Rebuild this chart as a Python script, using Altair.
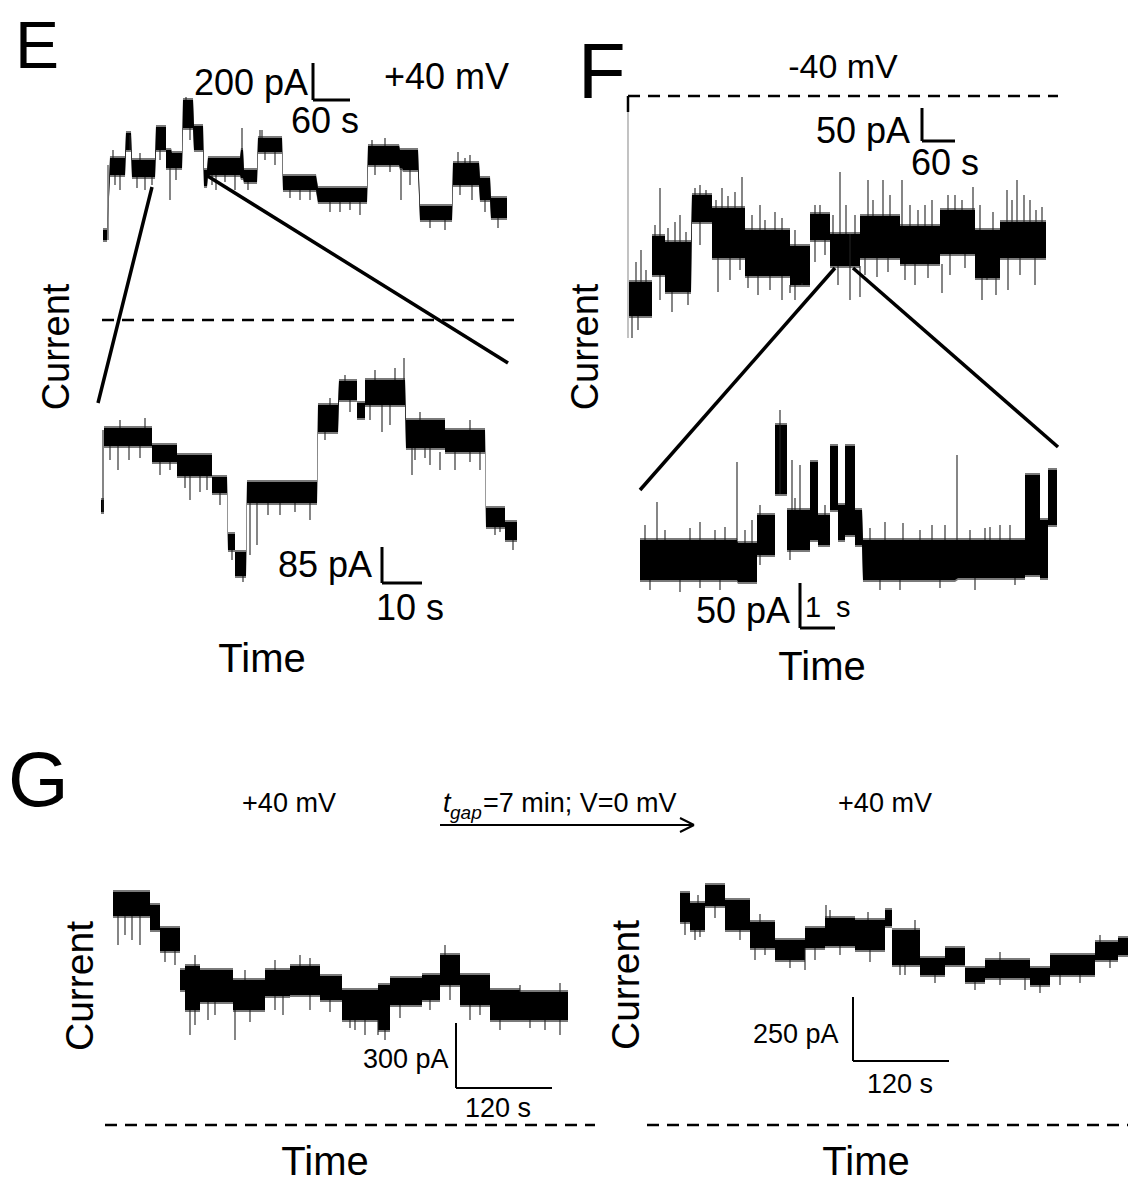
import altair as alt
import pandas as pd

# ------------------------------------------------------------------
# Digitised current traces (read off the figure).
# Each level: (time start, time end, upper edge, lower edge) in the
# figure's own digitising frame (px of the original panel layout).
# ------------------------------------------------------------------
E_TOP = [
    (103, 107, 230, 240), (110, 125, 158, 175), (126, 131, 133, 150),
    (132, 155, 160, 177), (156, 166, 127, 150), (166, 171, 150, 168),
    (172, 182, 153, 168), (183, 193, 100, 128), (194, 203, 126, 150),
    (204, 207, 170, 186), (208, 240, 158, 175), (241, 243, 150, 178),
    (244, 257, 170, 182), (258, 282, 138, 152), (283, 316, 176, 190),
    (318, 367, 188, 202), (368, 399, 146, 165), (400, 402, 150, 168),
    (403, 418, 150, 170), (420, 452, 206, 220), (453, 479, 163, 185),
    (480, 490, 178, 200), (491, 507, 198, 218),
]
# spikes: (time, from, to)
E_TOP_SPIKES = [
    (108, 165, 240), (170, 168, 200), (242, 150, 128), (401, 168, 200),
    (130, 150, 135), (186, 100, 97), (216, 175, 190), (300, 190, 200),
    (330, 202, 212), (350, 202, 210), (260, 138, 130), (430, 220, 228),
    (465, 163, 158), (498, 218, 228), (115, 175, 185), (120, 175, 190),
    (137, 177, 188), (145, 177, 190), (152, 177, 185), (160, 150, 160),
    (176, 168, 180), (190, 128, 140), (212, 175, 185), (225, 175, 182),
    (235, 175, 190), (248, 182, 190), (265, 152, 160), (275, 152, 165),
    (290, 190, 198), (310, 190, 200), (340, 202, 212), (360, 202, 215),
    (375, 165, 175), (390, 165, 172), (410, 170, 185), (445, 220, 230),
    (460, 185, 195), (472, 185, 200), (485, 200, 212), (113, 158, 150),
    (140, 160, 153), (262, 138, 130), (372, 146, 140), (385, 146, 138),
    (458, 163, 152), (470, 163, 155),
]

E_BOT = [
    (101, 104, 500, 512), (104, 152, 428, 446), (152, 177, 445, 462),
    (177, 212, 455, 476), (212, 227, 477, 493), (228, 235, 534, 550),
    (235, 246, 552, 576), (247, 317, 482, 503), (318, 338, 405, 432),
    (339, 357, 381, 400), (357, 365, 403, 418), (365, 405, 380, 405),
    (406, 445, 420, 448), (445, 485, 430, 452), (486, 505, 508, 527),
    (505, 517, 522, 540),
]
E_BOT_SPIKES = [
    (103, 430, 512), (118, 446, 470), (129, 446, 460), (190, 476, 500),
    (200, 476, 492), (250, 503, 555), (257, 503, 545), (268, 503, 515),
    (404, 380, 358), (412, 448, 475), (430, 448, 465), (440, 452, 470),
    (500, 527, 532), (513, 540, 550), (345, 381, 375), (382, 405, 432),
    (110, 446, 460), (140, 446, 458), (160, 462, 475), (170, 462, 470),
    (185, 476, 488), (207, 476, 490), (220, 493, 505), (232, 550, 560),
    (243, 576, 582), (280, 503, 515), (295, 503, 512), (310, 503, 520),
    (325, 432, 440), (350, 400, 412), (370, 405, 420), (390, 405, 425),
    (415, 448, 460), (425, 448, 458), (455, 452, 470), (470, 452, 462),
    (480, 452, 470), (495, 527, 535), (120, 428, 420), (145, 428, 418),
    (330, 405, 398), (375, 380, 370), (395, 380, 368), (420, 420, 412),
    (470, 430, 420),
]

F_TOP = [
    (629, 652, 282, 316), (652, 665, 236, 275), (665, 691, 242, 292),
    (692, 712, 195, 222), (712, 745, 208, 258), (745, 790, 230, 276),
    (790, 810, 246, 285), (810, 830, 214, 240), (830, 860, 234, 266),
    (860, 900, 216, 258), (900, 940, 226, 264), (940, 975, 210, 254),
    (975, 1000, 230, 278), (1000, 1046, 222, 258),
]
F_TOP_SPIKES = [
    (660, 236, 188), (722, 208, 188), (742, 208, 177), (840, 234, 172),
    (868, 216, 180), (883, 216, 180), (902, 226, 180), (973, 210, 187),
    (1007, 222, 190), (1017, 222, 180), (1042, 222, 207), (718, 258, 292),
    (748, 276, 288), (790, 285, 293), (802, 285, 283), (860, 266, 297),
    (877, 258, 277), (905, 264, 280), (942, 264, 293), (987, 278, 280),
    (1008, 258, 290), (680, 242, 215), (700, 195, 185), (760, 230, 205),
    (775, 230, 212), (820, 214, 205), (850, 234, 300), (925, 226, 205),
    (955, 210, 195), (1030, 222, 200), (632, 316, 338),
    (636, 282, 262), (641, 282, 250), (646, 282, 270), (655, 236, 225),
    (668, 242, 228), (675, 242, 222), (686, 242, 232), (695, 195, 188),
    (706, 195, 190), (716, 208, 200), (728, 208, 196), (735, 208, 192),
    (752, 230, 215), (765, 230, 220), (782, 230, 218), (795, 246, 230),
    (815, 214, 205), (833, 234, 215), (846, 234, 205), (855, 234, 215),
    (873, 216, 200), (890, 216, 195), (910, 226, 205), (918, 226, 210),
    (932, 226, 200), (948, 210, 195), (962, 210, 200), (980, 230, 205),
    (993, 230, 212), (1012, 222, 200), (1024, 222, 195), (1036, 222, 210),
    (638, 316, 330), (660, 275, 300), (672, 292, 312), (688, 292, 305),
    (700, 222, 245), (730, 258, 280), (740, 258, 270), (758, 276, 295),
    (770, 276, 290), (782, 276, 300), (795, 285, 300), (815, 240, 262),
    (825, 240, 255), (838, 266, 285), (865, 258, 275), (888, 258, 272),
    (915, 264, 285), (928, 264, 278), (950, 254, 275), (965, 254, 268),
    (982, 278, 300), (996, 278, 295), (1020, 258, 275), (1035, 258, 285),
]

F_BOT = [
    (640, 737, 540, 580), (738, 757, 543, 582), (757, 775, 515, 555),
    (775, 787, 425, 494), (787, 810, 510, 550), (810, 818, 462, 540),
    (818, 830, 515, 545), (830, 838, 446, 510), (838, 845, 505, 540),
    (845, 855, 446, 535), (855, 862, 510, 545), (863, 955, 540, 580),
    (958, 1025, 540, 578), (1025, 1040, 475, 575), (1040, 1048, 520, 578),
    (1048, 1057, 470, 525),
]
F_BOT_SPIKES = [
    (737, 540, 462), (957, 540, 455), (657, 540, 502), (700, 540, 522),
    (645, 540, 525), (752, 543, 520), (792, 510, 460), (800, 510, 465),
    (903, 540, 523), (932, 540, 525), (985, 540, 528), (1000, 540, 525),
    (680, 580, 592), (720, 580, 590), (780, 494, 410), (900, 580, 590),
    (665, 540, 530), (690, 540, 528), (715, 540, 530), (725, 540, 527),
    (745, 543, 530), (760, 515, 505), (795, 510, 498), (825, 515, 505),
    (870, 540, 528), (885, 540, 522), (920, 540, 530), (945, 540, 525),
    (970, 540, 530), (990, 540, 527), (1010, 540, 525), (650, 580, 590),
    (700, 580, 588), (760, 555, 565), (790, 550, 560), (880, 580, 590),
    (940, 580, 588), (975, 578, 590), (1015, 578, 585),
]

G_LEFT = [
    (113, 150, 892, 916), (150, 160, 905, 930), (160, 180, 928, 951),
    (180, 185, 970, 990), (185, 200, 966, 1010), (200, 233, 970, 1002),
    (233, 265, 980, 1010), (265, 290, 970, 996), (290, 320, 966, 995),
    (320, 342, 976, 1000), (342, 378, 990, 1020), (378, 390, 985, 1030),
    (390, 422, 978, 1005), (422, 440, 975, 1000), (440, 460, 955, 985),
    (460, 490, 975, 1005), (490, 520, 990, 1020), (520, 568, 992, 1020),
]
G_LEFT_SPIKES = [
    (118, 916, 945), (132, 916, 940), (190, 1010, 1035), (235, 1010, 1040),
    (378, 1020, 1035), (300, 966, 955), (283, 996, 1015), (355, 1020, 1030),
    (470, 1005, 1020), (545, 1020, 1030), (208, 1002, 1020),
    (125, 916, 935), (140, 916, 945), (165, 951, 962), (175, 951, 965),
    (195, 1010, 1025), (215, 1002, 1015), (250, 1010, 1022), (275, 996, 1010),
    (310, 995, 1010), (330, 1000, 1012), (350, 1020, 1028), (365, 1020, 1035),
    (385, 1030, 1040), (400, 1005, 1018), (430, 1000, 1010), (450, 985, 1000),
    (480, 1005, 1015), (500, 1020, 1030), (530, 1020, 1028), (560, 1020, 1035),
    (195, 966, 955), (245, 980, 970), (275, 970, 960), (310, 966, 958),
    (445, 955, 945), (520, 992, 985), (560, 992, 983),
]

G_RIGHT = [
    (680, 690, 893, 922), (690, 705, 903, 930), (705, 725, 885, 906),
    (725, 750, 900, 930), (750, 775, 922, 948), (775, 805, 940, 960),
    (805, 825, 928, 948), (825, 855, 918, 946), (855, 885, 920, 950),
    (885, 892, 910, 926), (892, 920, 930, 965), (920, 945, 958, 975),
    (945, 965, 948, 965), (965, 985, 968, 982), (985, 1030, 960, 978),
    (1030, 1050, 968, 985), (1050, 1095, 955, 975), (1095, 1118, 942, 960),
    (1118, 1136, 938, 955),
]
G_RIGHT_SPIKES = [
    (700, 930, 937), (755, 948, 960), (805, 948, 970), (826, 918, 905),
    (900, 965, 975), (1025, 978, 990), (1060, 975, 985),
    (685, 922, 935), (695, 930, 940), (715, 906, 918), (740, 930, 940),
    (765, 948, 955), (790, 960, 968), (815, 948, 960), (840, 946, 955),
    (870, 950, 962), (905, 965, 975), (935, 975, 983), (975, 982, 990),
    (1000, 978, 985), (1040, 985, 993), (1080, 975, 983), (1110, 960, 968),
    (698, 903, 895), (760, 922, 914), (830, 918, 910), (868, 920, 912),
    (915, 930, 920), (1000, 960, 952), (1100, 942, 935),
]

TRACES = {"E_top": E_TOP, "E_bottom": E_BOT, "F_top": F_TOP,
          "F_bottom": F_BOT, "G_left": G_LEFT, "G_right": G_RIGHT}
SPIKES = {"E_top": E_TOP_SPIKES, "E_bottom": E_BOT_SPIKES, "F_top": F_TOP_SPIKES,
          "F_bottom": F_BOT_SPIKES, "G_left": G_LEFT_SPIKES, "G_right": G_RIGHT_SPIKES}

# ------------------------------------------------------------------
# Annotation layer: labels, scale bars, zoom connectors, zero lines
# ------------------------------------------------------------------
LABELS_LEFT = [  # text, x, baseline y, font size
    ("E", 15, 68, 66), ("F", 578, 98, 78), ("G", 8, 806, 78),
    ("200 pA", 194, 95, 36), ("+40 mV", 384, 89, 36), ("60 s", 291, 133, 36),
    ("85 pA", 278, 577, 36), ("10 s", 376, 620, 36),
    ("50 pA", 816, 143, 36), ("60 s", 911, 175, 36),
    ("50 pA", 696, 623, 36), ("1", 805, 617, 29), ("s", 836, 617, 29),
    ("=7 min; V=0 mV", 483, 812, 27),
    ("300 pA", 363, 1068, 27), ("120 s", 465, 1117, 27),
    ("250 pA", 753, 1043, 27), ("120 s", 867, 1093, 27),
]
LABELS_ITALIC = [("t", 443, 812, 27), ("gap", 450, 819, 19)]
LABELS_CENTER = [
    ("-40 mV", 843, 78, 34), ("+40 mV", 289, 812, 27), ("+40 mV", 885, 812, 27),
    ("Time", 262, 672, 40), ("Time", 822, 680, 40),
    ("Time", 325, 1175, 40), ("Time", 866, 1175, 40),
]
LABELS_ROTATED = [("Current", 58, 347, 38), ("Current", 587, 347, 38),
                  ("Current", 81, 986, 39), ("Current", 627, 985, 39)]

SOLID_LINES = [  # x, y, x2, y2, width
    (152, 187, 98, 403, 3.5), (206, 175, 508, 363, 3.5),
    (313, 63, 313, 100, 3), (313, 100, 350, 100, 3),
    (382, 547, 382, 583, 3), (382, 583, 422, 583, 3),
    (922, 108, 922, 141, 3), (922, 141, 955, 141, 3),
    (835, 268, 640, 490, 3.5), (853, 268, 1058, 447, 3.5),
    (800, 583, 800, 628, 3), (800, 628, 835, 628, 3),
    (456, 1023, 456, 1088, 2), (456, 1088, 552, 1088, 2),
    (853, 997, 853, 1061, 2), (853, 1061, 949, 1061, 2),
    (440, 825, 693, 825, 2), (680, 818, 694, 825, 2), (680, 832, 694, 825, 2),
    (628, 96, 628, 112, 2.5),
]
THIN_LINES = [(628, 112, 338), (108, 165, 240)]
DASHED_LINES = [(102, 320, 515, 320), (628, 96, 1058, 96),
                (105, 1125, 595, 1125), (647, 1125, 1136, 1125)]

# ------------------------------------------------------------------
band_rows, spike_rows = [], []
for name, segs in TRACES.items():
    for x0, x1, top, bot in segs:
        for xx in (x0, x1):
            band_rows.append({"trace": name, "t": xx, "hi": top, "lo": bot,
                              "hi2": top - 2, "lo2": bot + 2})
for name, sp in SPIKES.items():
    for xx, a, b in sp:
        spike_rows.append({"trace": name, "t": xx, "a": a, "b": b})
bands = pd.DataFrame(band_rows)
spikes = pd.DataFrame(spike_rows)

xs = alt.Scale(domain=[8, 1128])
ys = alt.Scale(domain=[8, 1182], reverse=True)
X = lambda f: alt.X(f, type="quantitative", scale=xs, axis=None)
Y = lambda f: alt.Y(f, type="quantitative", scale=ys, axis=None)

fringe = alt.Chart(bands).mark_area(color="#7a7a7a", interpolate="linear").encode(
    x=X("t"), y=Y("hi2"), y2="lo2", detail="trace:N")
core = alt.Chart(bands).mark_area(color="#000000", interpolate="linear").encode(
    x=X("t"), y=Y("hi"), y2="lo", detail="trace:N")
spk = alt.Chart(spikes).mark_rule(color="#222222", strokeWidth=1.1).encode(
    x=X("t"), y=Y("a"), y2="b")

solid = pd.DataFrame(SOLID_LINES, columns=["x", "y", "x2", "y2", "w"])
solid_l = alt.Chart(solid).mark_rule(color="black", strokeCap="butt").encode(
    x=X("x"), y=Y("y"), x2="x2", y2="y2",
    strokeWidth=alt.StrokeWidth("w:Q", scale=None))
thin = pd.DataFrame(THIN_LINES, columns=["x", "y", "y2"])
thin_l = alt.Chart(thin).mark_rule(color="#9a9a9a", strokeWidth=1.2).encode(
    x=X("x"), y=Y("y"), y2="y2")
dashed = pd.DataFrame(DASHED_LINES, columns=["x", "y", "x2", "y2"])
dashed_l = alt.Chart(dashed).mark_rule(color="black", strokeWidth=2.5,
                                       strokeDash=[12, 8]).encode(
    x=X("x"), y=Y("y"), x2="x2", y2="y2")

FONT = "Liberation Sans"


def text_layer(rows, **kw):
    df = pd.DataFrame(rows, columns=["label", "x", "y", "s"])
    return alt.Chart(df).mark_text(font=FONT, color="black", **kw).encode(
        x=X("x"), y=Y("y"), text="label:N", size=alt.Size("s:Q", scale=None))


txt_left = text_layer(LABELS_LEFT, align="left", baseline="alphabetic")
txt_ital = text_layer(LABELS_ITALIC, align="left", baseline="alphabetic", fontStyle="italic")
txt_center = text_layer(LABELS_CENTER, align="center", baseline="alphabetic")
txt_rot = text_layer(LABELS_ROTATED, align="center", baseline="middle", angle=270)

chart = alt.layer(fringe, core, spk, thin_l, solid_l, dashed_l,
                  txt_left, txt_ital, txt_center, txt_rot).properties(
    width=1120, height=1174, padding=0, autosize=alt.AutoSizeParams(type="none"),
    background="white"
).configure_view(stroke=None)

chart.save("out.html", embed_options={"renderer": "svg", "actions": False})
